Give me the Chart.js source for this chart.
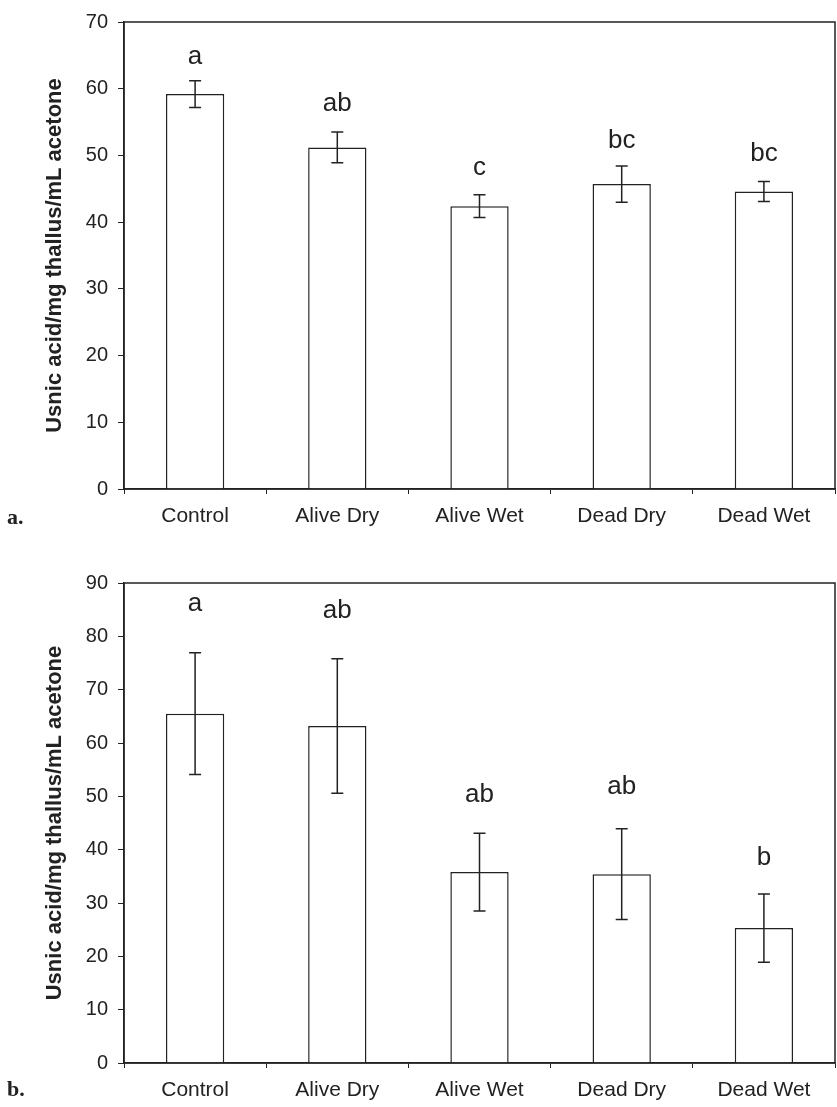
<!DOCTYPE html>
<html lang="en">
<head>
  <meta charset="UTF-8">
  <title>Usnic acid content</title>
  <script src="https://cdn.jsdelivr.net/npm/chart.js"></script>
  <style>
    body { margin: 0; background: #fff; width: 837px; height: 1107px; position: relative; overflow: hidden; }
    .panel { position: absolute; left: 0; }
    .tag { position: absolute; left: 7px; font-family: "Liberation Serif", "Times New Roman", serif; font-weight: bold; font-size: 22px; color: #222; }
  </style>
</head>
<body>

<div class="panel" style="top:0"><canvas id="chartA" width="837" height="550"></canvas></div>
<div class="panel" style="top:550px"><canvas id="chartB" width="837" height="557"></canvas></div>
<div class="tag" style="top:504px">a.</div>
<div class="tag" style="top:1076px">b.</div>

<script>
// categories shared by both panels
const categories = ['Control', 'Alive Dry', 'Alive Wet', 'Dead Dry', 'Dead Wet'];

// panel a
const meansA = [59.2, 51.2, 42.4, 45.7, 44.6];
const errA = [2.0, 2.3, 1.7, 2.7, 1.5];
const lettersA = ['a', 'ab', 'c', 'bc', 'bc'];
const letterAtA = [64.8, 57.8, 48.1, 52.2, 50.3];

// panel b
const meansB = [65.5, 63.2, 35.8, 35.4, 25.3];
const errB = [11.4, 12.6, 7.3, 8.5, 6.4];
const lettersB = ['a', 'ab', 'ab', 'ab', 'b'];
const letterAtB = [86.1, 84.8, 50.3, 51.8, 38.4];

const yTitle = 'Usnic acid/mg thallus/mL acetone';
const sans = '"Liberation Sans", Arial, sans-serif';
const ink = '#222';

// error bars, significance letters and the frame
const extras = {
  id: 'extras',
  afterDatasetsDraw(chart, args, opts) {
    const ctx = chart.ctx;
    const x = chart.scales.x, y = chart.scales.y;
    ctx.save();
    ctx.strokeStyle = ink;
    ctx.lineWidth = 1.5;
    opts.means.forEach((m, i) => {
      const cx = x.getPixelForValue(i);
      const top = y.getPixelForValue(m + opts.err[i]);
      const bot = y.getPixelForValue(m - opts.err[i]);
      ctx.beginPath();
      ctx.moveTo(cx, top); ctx.lineTo(cx, bot);
      ctx.moveTo(cx - 6, top); ctx.lineTo(cx + 6, top);
      ctx.moveTo(cx - 6, bot); ctx.lineTo(cx + 6, bot);
      ctx.stroke();
    });
    ctx.fillStyle = ink;
    ctx.font = '26px ' + sans;
    ctx.textAlign = 'center';
    ctx.textBaseline = 'middle';
    opts.letters.forEach((t, i) => {
      ctx.fillText(t, x.getPixelForValue(i), y.getPixelForValue(opts.letterAt[i]));
    });
    const a = chart.chartArea;
    ctx.strokeRect(a.left, a.top, a.right - a.left, a.bottom - a.top);
    ctx.restore();
  }
};

function makeChart(id, means, err, letters, letterAt, yMax, padTop, plotBottom) {
  const canvas = document.getElementById(id);
  return new Chart(canvas.getContext('2d'), {
    type: 'bar',
    data: {
      labels: categories,
      datasets: [{
        data: means,
        backgroundColor: '#fff',
        borderColor: ink,
        borderWidth: 1.5,
        barPercentage: 0.41,
        categoryPercentage: 1.0
      }]
    },
    options: {
      responsive: false,
      animation: false,
      layout: { padding: { top: padTop, right: 2, left: 0, bottom: 0 } },
      plugins: {
        legend: { display: false },
        tooltip: { enabled: false },
        extras: { means, err, letters, letterAt }
      },
      scales: {
        x: {
          grid: { offset: true, drawOnChartArea: false, drawTicks: true, tickLength: 5, color: ink },
          border: { display: true, color: ink, width: 1.5 },
          ticks: { color: ink, padding: 10, font: { family: sans, size: 21 }, maxRotation: 0 },
          afterFit: s => { s.height = canvas.height - plotBottom; }
        },
        y: {
          min: 0,
          max: yMax,
          grid: { drawOnChartArea: false, drawTicks: true, tickLength: 6, color: ink },
          border: { display: true, color: ink, width: 1.5 },
          ticks: { stepSize: 10, color: ink, padding: 10, font: { family: sans, size: 20 } },
          title: {
            display: true,
            text: yTitle,
            color: ink,
            padding: { top: 42, bottom: 0 },
            font: { family: sans, size: 22, weight: 'bold', lineHeight: 1.2 }
          },
          afterFit: s => { s.width = 124; }
        }
      }
    },
    plugins: [extras]
  });
}

makeChart('chartA', meansA, errA, lettersA, letterAtA, 70, 21, 489);
makeChart('chartB', meansB, errB, lettersB, letterAtB, 90, 33, 513);
</script>

</body>
</html>
